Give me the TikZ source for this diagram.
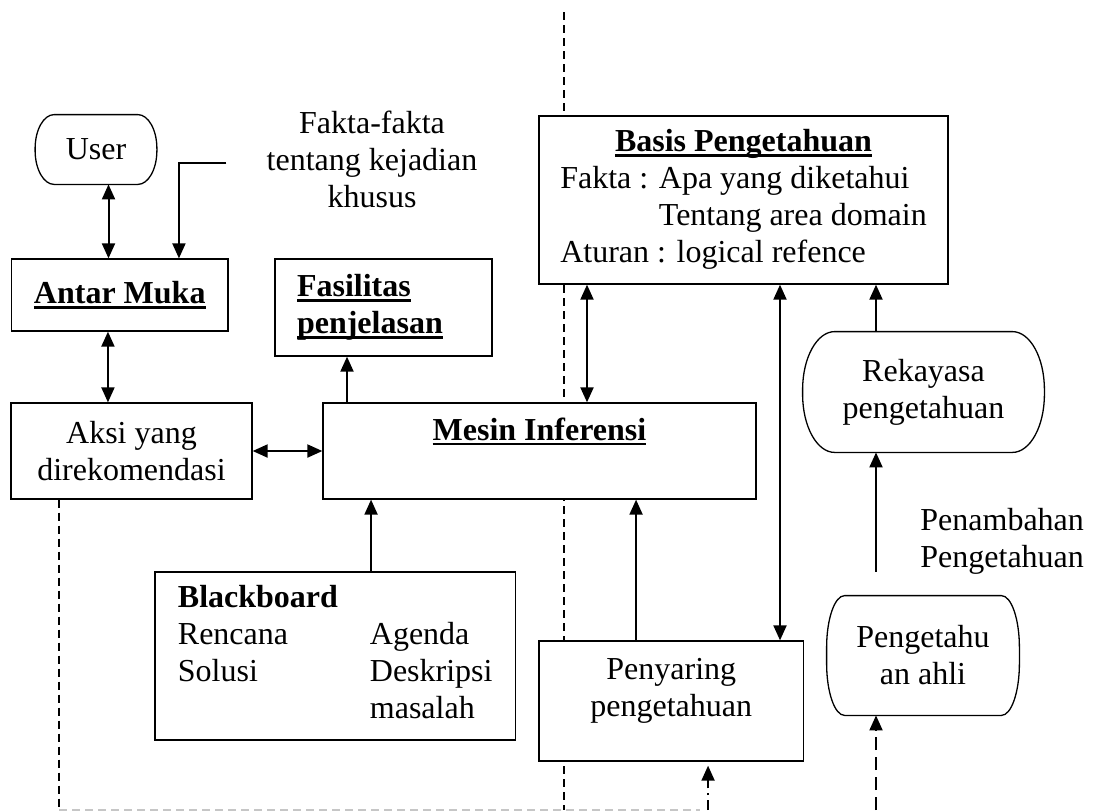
\documentclass[tikz,border=0pt]{standalone}
\usepackage{fontspec}
\setmainfont{Liberation Serif}
\usetikzlibrary{arrows.meta}
\tikzstyle{diagram}=[x=0.5pt, y=-0.5pt, >={Triangle[length=7.5pt,width=6.5pt]}, font=\fontsize{16}{18.5}\selectfont]
\tikzstyle{box}=[draw, fill=white, line width=0.65pt, inner sep=0pt]
\tikzstyle{plain}=[inner sep=0pt]
\tikzstyle{flow}=[line width=1pt]
\tikzstyle{border}=[dash pattern=on 4pt off 2.5pt, line width=0.6pt]
\newcommand{\ulbf}[1]{\leavevmode\setbox0\hbox{\textbf{#1}}\rlap{\rule[-2.4pt]{\wd0}{1.2pt}}\box0}
\newcommand{\termframe}[3]{%
  \draw[line width=0.65pt] ([xshift=#2]#1.north west) -- ([xshift=-#2]#1.north east)
    arc[start angle=90, end angle=0, x radius=#2, y radius=#3]
    -- ([yshift=#3]#1.south east)
    arc[start angle=0, end angle=-90, x radius=#2, y radius=#3]
    -- ([xshift=#2]#1.south west)
    arc[start angle=270, end angle=180, x radius=#2, y radius=#3]
    -- ([yshift=-#3]#1.north west)
    arc[start angle=180, end angle=90, x radius=#2, y radius=#3]
    -- cycle;}

\begin{document}
\begin{tikzpicture}[diagram]
  \useasboundingbox (0,0) rectangle (1095,811);
  \coordinate (floor) at (0,810);
  \coordinate (divtop) at (564,12);
  % boundary behind the boxes
  \draw[border] (divtop) -- (divtop |- floor);

  \node[plain, minimum width=60.5pt, minimum height=34.5pt] (user) at (96,149.5) {User};
  \termframe{user}{9.5pt}{17pt}
  \node[plain, align=center] (fakta) at (372,159) {Fakta-fakta\\tentang kejadian\\khusus};
  \node[box, minimum width=108.25pt, minimum height=36pt] (antar) at (119.75,295) {\ulbf{Antar Muka}};
  \node[box, minimum width=108.5pt, minimum height=48.5pt, align=left, text width=86.5pt] (fasilitas) at (383.5,307.5) {\ulbf{Fasilitas}\\\ulbf{penjelasan}};
  \node[box, minimum width=120.5pt, minimum height=48pt, align=center] (aksi) at (131.5,451) {Aksi yang\\direkomendasi};
  \node[box, minimum width=216.5pt, minimum height=48pt, text depth=22pt] (mesin) at (539.5,451) {\ulbf{Mesin Inferensi}};
  \node[box, minimum width=180.25pt, minimum height=84pt] (blackboard) at (335.25,656)
    {\begin{tabular}{@{}p{96pt}@{}l@{}}\textbf{Blackboard} & \\ Rencana & Agenda\\ Solusi & Deskripsi\\ & masalah\end{tabular}};
  \node[box, minimum width=204.5pt, minimum height=84pt] (basis) at (743.5,200)
    {\begin{tabular}{@{}l@{}}\multicolumn{1}{@{}c@{}}{\ulbf{Basis Pengetahuan}}\\ Fakta : Apa yang diketahui\\ \phantom{Fakta : }Tentang area domain\\ Aturan : logical refence\end{tabular}};
  \node[box, minimum width=132.25pt, minimum height=60pt, align=center, text depth=13.5pt] (penyaring) at (671.25,701) {Penyaring\\pengetahuan};
  \node[plain, minimum width=120.5pt, minimum height=60pt, align=center] (rekayasa) at (923.5,392) {Rekayasa\\pengetahuan};
  \termframe{rekayasa}{16pt}{29pt}
  \node[plain, minimum width=96pt, minimum height=59.5pt, align=center] (pengetahu) at (923,655.5) {Pengetahu\\an ahli};
  \termframe{pengetahu}{9pt}{26pt}
  \node[plain, anchor=west, align=left] (penambahan) at (920,541) {Penambahan\\Pengetahuan};

  % connectors
  \draw[flow,<->] ([xshift=6.25pt]user.south) -- ([xshift=6.25pt]user.south |- antar.north);
  \draw[flow,->] ([xshift=-20pt,yshift=-2pt]fakta.west) -| ([xshift=29.6pt]antar.north);
  \draw[flow,<->] ([xshift=-5.9pt]antar.south) -- ([xshift=-5.9pt]antar.south |- aksi.north);
  \draw[flow,->] ([xshift=-18.25pt]fasilitas.south |- mesin.north) -- ([xshift=-18.25pt]fasilitas.south);
  \draw[flow,<->] (aksi) -- (mesin);
  \draw[flow,->] ([xshift=17.9pt]blackboard.north) -- ([xshift=17.9pt]blackboard.north |- mesin.south);
  \draw[flow,<->] ([xshift=-78.25pt]basis.south) -- ([xshift=-78.25pt]basis.south |- mesin.north);
  \draw[flow,<->] ([xshift=18.25pt]basis.south) -- ([xshift=18.25pt]basis.south |- penyaring.north);
  \draw[flow,->] ([xshift=-17.6pt]penyaring.north) -- ([xshift=-17.6pt]penyaring.north |- mesin.south);
  \draw[flow,->] ([xshift=-23.75pt]rekayasa.north) -- ([xshift=-23.75pt]rekayasa.north |- basis.south);
  \draw[flow,->] ([xshift=-23.5pt,yshift=12pt]pengetahu.north) -- ([xshift=-23.5pt]pengetahu.north |- rekayasa.south);
  \draw[flow,->,dash pattern=on 6.5pt off 3.5pt] ([xshift=-23.5pt]pengetahu.south |- floor) -- ([xshift=-23.5pt]pengetahu.south);
  \draw[flow,->,dash pattern=on 5pt off 2.5pt on 0.8pt off 2.5pt] ([xshift=18.4pt]penyaring.south |- floor) -- ([xshift=18.4pt,yshift=-2pt]penyaring.south);

  % boundary below the left side
  \draw[border] ([xshift=-36.25pt]aksi.south) -- ([xshift=-36.25pt]aksi.south |- floor);
  \draw[border, gray!45] ([xshift=-36.25pt]aksi.south |- floor) -- (700,810);
\end{tikzpicture}
\end{document}
